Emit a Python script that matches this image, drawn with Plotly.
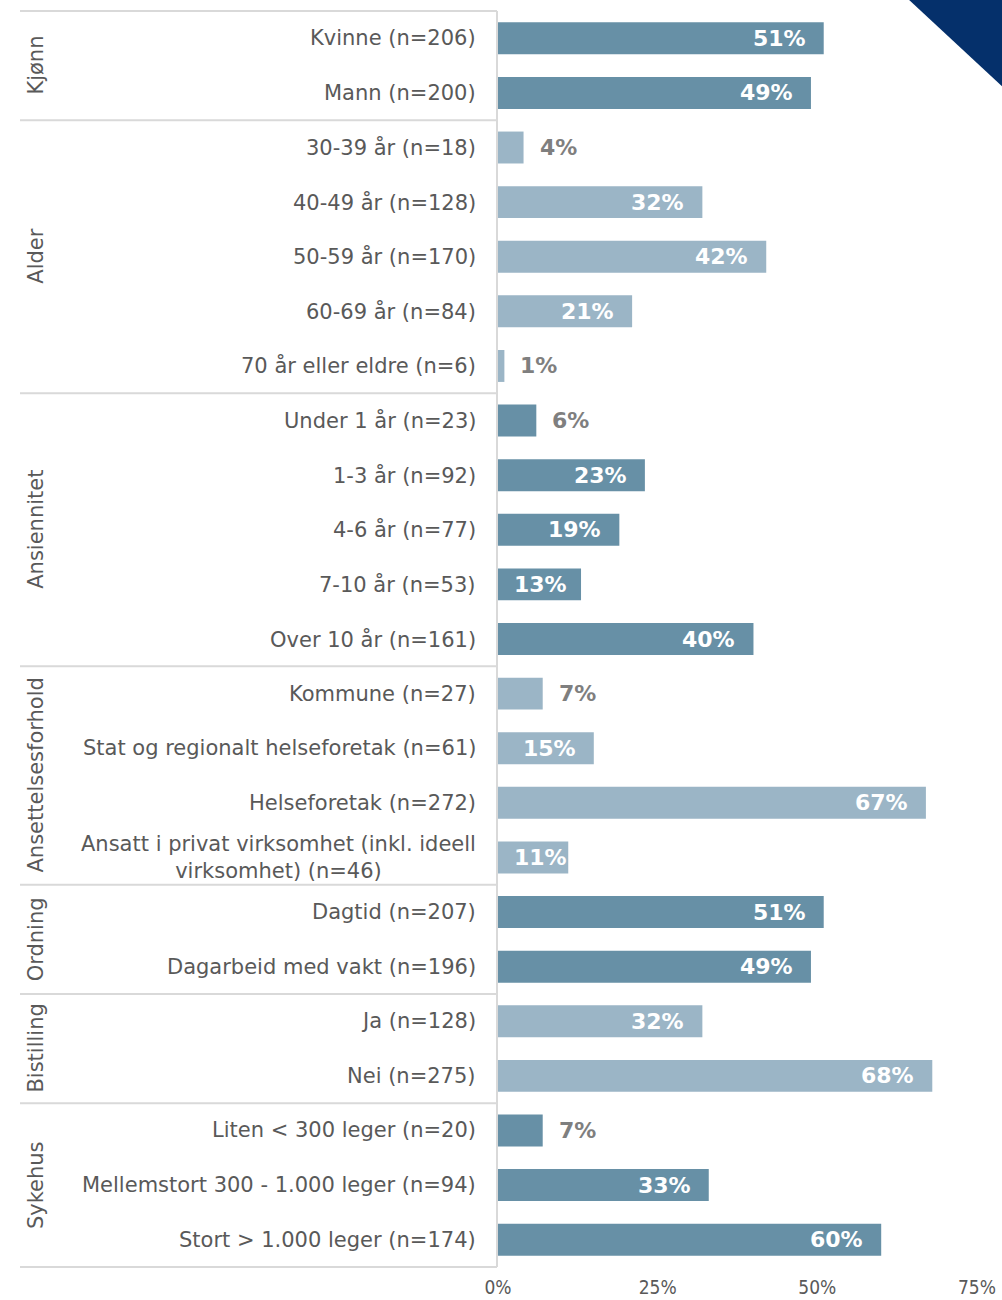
import plotly.graph_objects as go

# Survey breakdown by background group
groups = ["Kjønn", "Alder", "Ansiennitet", "Ansettelsesforhold", "Ordning", "Bistilling", "Sykehus"]
group_sizes = [2, 5, 5, 4, 2, 2, 3]
group_shade = ["dark", "light", "dark", "light", "dark", "light", "dark"]

categories = [
    "Kvinne (n=206)", "Mann (n=200)",
    "30-39 år (n=18)", "40-49 år (n=128)", "50-59 år (n=170)", "60-69 år (n=84)", "70 år eller eldre (n=6)",
    "Under 1 år (n=23)", "1-3 år (n=92)", "4-6 år (n=77)", "7-10 år (n=53)", "Over 10 år (n=161)",
    "Kommune (n=27)", "Stat og regionalt helseforetak (n=61)", "Helseforetak (n=272)",
    "Ansatt i privat virksomhet (inkl. ideell<br>virksomhet) (n=46)",
    "Dagtid (n=207)", "Dagarbeid med vakt (n=196)",
    "Ja (n=128)", "Nei (n=275)",
    "Liten < 300 leger (n=20)", "Mellemstort 300 - 1.000 leger (n=94)", "Stort > 1.000 leger (n=174)",
]
values = [51, 49, 4, 32, 42, 21, 1, 6, 23, 19, 13, 40, 7, 15, 67, 11, 51, 49, 32, 68, 7, 33, 60]

x_ticks = [0, 25, 50, 75]
x_tick_labels = ["0%", "25%", "50%", "75%"]

DARK = "#6790a6"
LIGHT = "#9bb5c6"
GRID = "#d9d9d9"
TEXT = "#595959"
FONT = "DejaVu Sans, Verdana, sans-serif"
TICK_FONT = "DejaVu Sans Condensed, DejaVu Sans, sans-serif"

W, H = 1002, 1300
L, R, T, B = 498, 25, 11, 33
plot_w = W - L - R
plot_h = H - T - B
x_max = 75

colors = []
for g, n in enumerate(group_sizes):
    colors += [DARK if group_shade[g] == "dark" else LIGHT] * n

fig = go.Figure(go.Bar(
    x=values, y=categories, orientation="h",
    marker=dict(color=colors, line=dict(width=0)),
    width=0.585, hoverinfo="skip",
))

annotations = []
# value labels: white inside longer bars, grey outside short ones
label_w = 57
VAL_SIZE = 22
for cat, v in zip(categories, values):
    bar_px = v / x_max * plot_w
    if v < 10:
        annotations.append(dict(x=v, y=cat, xref="x", yref="y", text=f"{v}%", showarrow=False,
                                xanchor="left", xshift=14,
                                font=dict(family=FONT, size=VAL_SIZE, color="#7f7f7f", weight="bold")))
    elif bar_px - 17 - label_w < 15:
        annotations.append(dict(x=0, y=cat, xref="x", yref="y", text=f"{v}%", showarrow=False,
                                xanchor="left", xshift=14,
                                font=dict(family=FONT, size=VAL_SIZE, color="white", weight="bold")))
    else:
        annotations.append(dict(x=v, y=cat, xref="x", yref="y", text=f"{v}%", showarrow=False,
                                xanchor="right", xshift=-16,
                                font=dict(family=FONT, size=VAL_SIZE, color="white", weight="bold")))

# category labels in the left table
for cat in categories:
    annotations.append(dict(x=0, y=cat, xref="paper", yref="y", text=cat, showarrow=False,
                            xanchor="right", xshift=-20, align="center",
                            font=dict(family=FONT, size=21, color=TEXT)))


def px_to_paper_x(px):
    return (px - L) / plot_w


def row_to_paper_y(row):
    # row boundary index (0 = top edge) to paper y
    return 1 - row / len(categories)


shapes = []
x_left = px_to_paper_x(20)
x_right = px_to_paper_x(497)
start = 0
boundaries = [0]
for g, n in enumerate(group_sizes):
    mid = start + n / 2
    annotations.append(dict(x=px_to_paper_x(36), y=row_to_paper_y(mid), xref="paper", yref="paper",
                            text=groups[g], showarrow=False, textangle=-90,
                            xanchor="center", yanchor="middle",
                            font=dict(family=FONT, size=21, color=TEXT)))
    start += n
    boundaries.append(start)

for b in boundaries:
    shapes.append(dict(type="line", xref="paper", yref="paper",
                       x0=x_left, x1=x_right, y0=row_to_paper_y(b), y1=row_to_paper_y(b),
                       line=dict(color=GRID, width=2)))
shapes.append(dict(type="line", xref="paper", yref="paper",
                   x0=x_right, x1=x_right, y0=0, y1=1,
                   line=dict(color=GRID, width=2)))

# corner decoration
cx0 = (907 - L) / plot_w
cx1 = (W + 2 - L) / plot_w
cy0 = 1 + (T + 2) / plot_h
cy1 = 1 - (88 - T) / plot_h
shapes.append(dict(type="path", xref="paper", yref="paper",
                   path=f"M {cx0} {cy0} L {cx1} {cy0} L {cx1} {cy1} Z",
                   fillcolor="#05306b", line=dict(width=0)))

fig.update_layout(
    width=W, height=H,
    margin=dict(l=L, r=R, t=T, b=B, autoexpand=False),
    plot_bgcolor="white", paper_bgcolor="white",
    showlegend=False,
    xaxis=dict(range=[0, x_max], tickvals=x_ticks, ticktext=x_tick_labels,
               showgrid=False, zeroline=False, showline=False, ticks="",
               automargin=False, ticklabelstandoff=7,
               tickfont=dict(family=TICK_FONT, size=19, color=TEXT), fixedrange=True),
    yaxis=dict(categoryorder="array", categoryarray=categories, autorange="reversed",
               showticklabels=False, showgrid=False, zeroline=False, showline=False,
               ticks="", automargin=False, fixedrange=True),
    annotations=annotations,
    shapes=shapes,
)

fig.write_html("out.html")
